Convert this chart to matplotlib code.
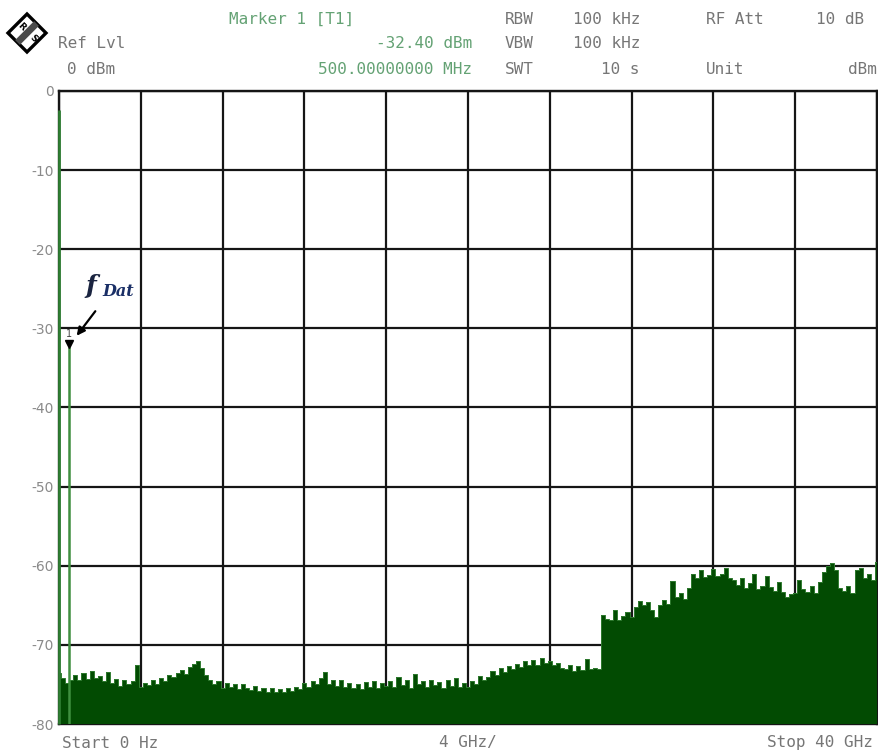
import matplotlib
matplotlib.use("Agg")
import matplotlib.pyplot as plt
import numpy as np
from matplotlib.patches import Polygon

# ---------------- data ----------------
freq_start_ghz = 0.0
freq_stop_ghz = 40.0
level_0_4 = [-73.5, -74.2, -74.8, -74.5, -73.8, -74.4, -73.6, -74.3, -73.3, -74.2,
             -73.9, -74.6, -73.4, -74.8, -74.3, -75.2, -74.5, -75.0, -74.6, -72.6]
level_4_8 = [-75.3, -74.8, -75.1, -74.4, -74.9, -74.2, -74.6, -73.8, -74.1, -73.5,
             -73.2, -73.7, -72.8, -72.4, -72.1, -72.9, -73.8, -74.4, -74.9, -74.6]
level_8_12 = [-75.4, -74.8, -75.3, -75.0, -75.6, -74.9, -75.4, -75.7, -75.2, -75.8,
              -75.4, -75.9, -75.5, -75.9, -75.6, -76.0, -75.5, -75.8, -75.3, -75.6]
level_12_16 = [-74.8, -75.3, -74.6, -75.0, -74.2, -73.4, -74.9, -74.5, -75.2, -74.4,
               -75.3, -74.8, -75.5, -74.9, -75.6, -74.7, -75.3, -74.6, -75.4, -74.8]
level_16_20 = [-75.2, -74.6, -75.3, -74.0, -75.1, -74.5, -75.4, -73.7, -75.0, -74.6,
               -75.3, -74.4, -75.1, -74.7, -75.4, -74.5, -75.2, -74.2, -75.3, -74.8]
level_20_24 = [-75.3, -74.6, -74.9, -73.9, -74.5, -74.0, -73.3, -73.8, -72.9, -73.4,
               -72.7, -73.1, -72.4, -72.8, -72.0, -72.5, -71.9, -72.6, -71.7, -72.3]
level_24_28 = [-72.0, -72.6, -72.3, -72.9, -73.1, -72.6, -73.3, -72.7, -73.2, -71.8,
               -73.1, -72.9, -73.0, -66.2, -66.7, -66.9, -65.6, -66.8, -66.4, -65.8]
level_28_32 = [-66.5, -65.2, -64.5, -65.0, -64.6, -65.6, -66.5, -65.0, -64.3, -64.8,
               -61.9, -64.0, -63.5, -64.2, -62.8, -61.0, -61.6, -60.6, -61.4, -61.2]
level_32_36 = [-60.4, -61.3, -61.0, -60.3, -61.5, -61.8, -62.4, -61.6, -62.8, -62.2,
               -61.1, -62.9, -62.5, -61.3, -62.7, -63.2, -62.0, -63.3, -63.9, -63.6]
level_36_40 = [-63.5, -61.8, -63.0, -63.3, -62.6, -63.4, -62.1, -60.8, -60.0, -59.7,
               -60.6, -62.8, -63.2, -62.6, -63.4, -60.5, -60.3, -61.5, -61.0, -61.8, -59.5]

dc_level_dbm = -2.4
marker_freq_ghz = 0.5
marker_level_dbm = -32.40

y_ticks = [0, -10, -20, -30, -40, -50, -60, -70, -80]
y_tick_labels = ["0", "-10", "-20", "-30", "-40", "-50", "-60", "-70", "-80"]
x_grid_ghz = [0, 4, 8, 12, 16, 20, 24, 28, 32, 36, 40]

level = np.array(level_0_4 + level_4_8 + level_8_12 + level_12_16 + level_16_20 +
                 level_20_24 + level_24_28 + level_28_32 + level_32_36 + level_36_40)
freq = np.linspace(freq_start_ghz, freq_stop_ghz, len(level))

# ---------------- figure ----------------
W, H = 879, 754
fig = plt.figure(figsize=(W / 100, H / 100), dpi=100)
fig.patch.set_facecolor("white")

ax = fig.add_axes([59 / W, 1 - 724 / H, 818 / W, 633 / H])
ax.set_xlim(freq_start_ghz, freq_stop_ghz)
ax.set_ylim(-80, 0)

ax.set_xticks(x_grid_ghz)
ax.set_xticklabels([])
ax.set_yticks(y_ticks)
ax.set_yticklabels(y_tick_labels)
ax.tick_params(axis="both", length=0)
ax.tick_params(axis="y", pad=4, labelcolor="#8a8a8a", labelsize=10)
for lab in ax.get_yticklabels():
    lab.set_fontfamily("DejaVu Sans")
ax.set_axisbelow(True)
ax.grid(True, color="#151515", lw=1.6)
for s in ax.spines.values():
    s.set_color("#151515")
    s.set_linewidth(1.7)

trace_fill = "#024b02"
ax.fill_between(freq, -80, level, step="mid", color=trace_fill, lw=0, zorder=3)
ax.step(freq, level, where="mid", color="#2f7a2f", lw=0.7, zorder=4)

# DC component at 0 Hz and the data tone at the marker
ax.vlines(0.0, -80, dc_level_dbm, color="#2e7d32", lw=2.0, zorder=5, clip_on=False)
ax.vlines(marker_freq_ghz, -80, marker_level_dbm, color="#3f8f3f", lw=1.8, zorder=5)
ax.plot(marker_freq_ghz, marker_level_dbm + 0.4, marker="v", ms=5.5, color="black",
        zorder=6, clip_on=False)
ax.text(marker_freq_ghz, marker_level_dbm + 1.0, "1", ha="center", va="bottom",
        fontsize=7, color="#444444", zorder=7)

# ---------------- overlay in pixel coords ----------------
ov = fig.add_axes([0, 0, 1, 1], zorder=10)
ov.set_xlim(0, W)
ov.set_ylim(H, 0)
ov.axis("off")
ov.patch.set_alpha(0)

mono = "DejaVu Sans Mono"
green = "#64a274"
grey = "#767676"
fs = 11.5

def t(x, y, s, color=grey, ha="left", size=fs):
    ov.text(x, y, s, color=color, ha=ha, va="center", fontsize=size, family=mono)

t(229, 19, "Marker 1 [T1]", green)
t(58, 44, "Ref Lvl")
t(472, 44, "-32.40 dBm", green, ha="right")
t(67, 69, "0 dBm")
t(472, 69, "500.00000000 MHz", green, ha="right")
t(505, 19, "RBW")
t(573, 19, "100 kHz")
t(706, 19, "RF Att")
t(864, 19, "10 dB", ha="right")
t(505, 44, "VBW")
t(573, 44, "100 kHz")
t(505, 69, "SWT")
t(640, 69, "10 s", ha="right")
t(706, 69, "Unit")
t(877, 69, "dBm", ha="right")

t(62, 743, "Start 0 Hz")
t(468, 743, "4 GHz/", ha="center")
t(873, 743, "Stop 40 GHz", ha="right")

# R&S style logo
cx, cy, r = 27, 33, 19
ov.add_patch(Polygon([(cx, cy - r), (cx + r, cy), (cx, cy + r), (cx - r, cy)],
                     closed=True, facecolor="white", edgecolor="black", lw=2.4))
ax1, ay1 = cx + r / 2, cy - r / 2
ax2, ay2 = cx - r / 2, cy + r / 2
d = 2.4
ov.add_patch(Polygon([(ax1 - d, ay1 - d), (ax1 + d, ay1 + d), (ax2 + d, ay2 + d), (ax2 - d, ay2 - d)],
                     closed=True, facecolor="#4a4a4a", edgecolor="none"))
ov.text(21, 27, "R", fontsize=6.5, fontweight="bold", ha="center", va="center", rotation=-45)
ov.text(33, 39, "S", fontsize=6.5, fontweight="bold", ha="center", va="center", rotation=-45)

# f_Dat annotation
ov.text(91, 286, "f", fontsize=18, family="DejaVu Serif", style="italic", fontweight="bold",
        color="#1a2440", ha="center", va="center")
ov.text(102, 292, "Dat", fontsize=11.5, family="DejaVu Serif", style="italic", fontweight="bold",
        color="#1a2f66", ha="left", va="center")
ov.annotate("", xy=(75, 338), xytext=(97, 309),
            arrowprops=dict(arrowstyle="-|>", color="black", lw=1.6, mutation_scale=12))

fig.savefig("out.png", dpi=100, facecolor="white")
